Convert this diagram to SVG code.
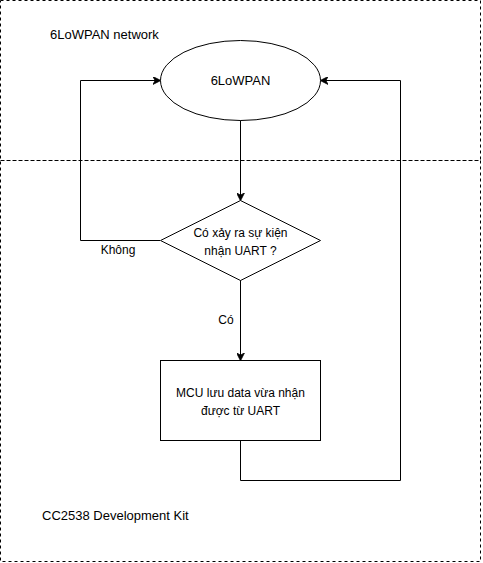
<svg xmlns="http://www.w3.org/2000/svg" width="483" height="563" viewBox="0 0 483 563">
<defs>
<style>
.zone{fill:none;stroke:#000;stroke-width:1;stroke-dasharray:3 3}
.shape{fill:#fff;stroke:#000;stroke-width:1}
.edge{fill:none;stroke:#000;stroke-width:1}
text{font-family:"Liberation Sans",Arial,Helvetica,sans-serif;font-size:12px;fill:#000}
.big{font-size:13px}
.c{text-anchor:middle}
</style>
<marker id="arr" viewBox="0 0 10 10" refX="9" refY="5" markerWidth="8" markerHeight="8" markerUnits="userSpaceOnUse" orient="auto">
<path d="M0,0 L10,5 L0,10 L3,5 Z" fill="#000" stroke="#000" stroke-width="1"/>
</marker>
</defs>
<rect width="483" height="563" fill="#fff"/>
<g id="zone-network">
<rect class="zone" x="0.5" y="0.5" width="480" height="160"/>
<text x="50" y="39" class="big">6LoWPAN network</text>
</g>
<g id="zone-kit">
<rect class="zone" x="0.5" y="160.5" width="480" height="401"/>
<text x="42" y="520" class="big">CC2538 Development Kit</text>
</g>
<g id="connectors">
<path class="edge" d="M240.5,120 L240.5,200" marker-end="url(#arr)"/>
<path class="edge" d="M160,240.5 L80.5,240.5 L80.5,80.5 L160,80.5" marker-end="url(#arr)"/>
<path class="edge" d="M240.5,280 L240.5,360" marker-end="url(#arr)"/>
<path class="edge" d="M240.5,440 L240.5,480.5 L400.5,480.5 L400.5,80.5 L321,80.5" marker-end="url(#arr)"/>
<text x="118" y="254" class="c">Không</text>
<text x="226" y="324" class="c">Có</text>
</g>
<g id="node-6lowpan">
<ellipse class="shape" cx="240.5" cy="80.5" rx="80" ry="40"/>
<text x="240.5" y="85" class="c big">6LoWPAN</text>
</g>
<g id="node-decision">
<path class="shape" d="M240.5,200.5 L320.5,240.5 L240.5,280.5 L160.5,240.5 Z"/>
<text x="240.5" y="236.5" class="c">Có xảy ra sự kiện</text>
<text x="240.5" y="254.5" class="c">nhận UART ?</text>
</g>
<g id="node-mcu">
<rect class="shape" x="160.5" y="360.5" width="160" height="80"/>
<text x="240.5" y="397" class="c">MCU lưu data vừa nhận</text>
<text x="240.5" y="415" class="c">được từ UART</text>
</g>
</svg>
